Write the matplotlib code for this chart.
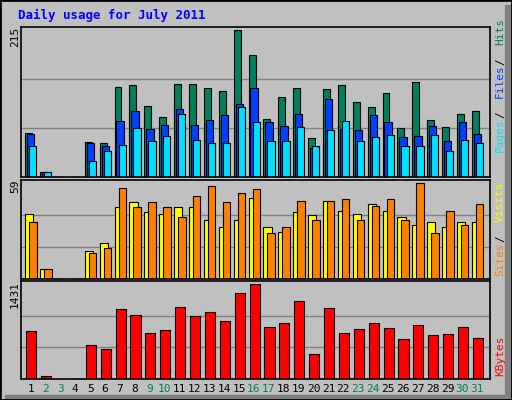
import numpy as np
import matplotlib.pyplot as plt
from matplotlib.patches import Rectangle

days = list(range(1, 32))
weekend = [2, 3, 9, 10, 16, 17, 23, 24, 30, 31]

hits = [64, 7, 0, 0, 51, 49, 131, 134, 104, 87, 136, 136, 130, 126, 215, 179,
        85, 117, 130, 57, 129, 134, 110, 102, 123, 72, 139, 84, 73, 92, 97]
files = [63, 7, 0, 0, 50, 46, 82, 97, 70, 76, 100, 76, 84, 91, 106, 130,
         81, 74, 92, 43, 114, 70, 69, 90, 81, 59, 60, 74, 52, 81, 63]
pages = [46, 7, 0, 0, 24, 38, 47, 72, 52, 60, 92, 54, 50, 50, 103, 81,
         53, 52, 73, 46, 69, 82, 52, 58, 62, 46, 46, 62, 38, 54, 49]
visits = [40, 6, 0, 0, 17, 22, 44, 47, 41, 40, 44, 44, 36, 32, 36, 50,
          32, 29, 41, 39, 48, 42, 40, 46, 42, 38, 33, 35, 32, 35, 35]
sites = [35, 6, 0, 0, 16, 19, 56, 44, 47, 44, 38, 51, 57, 47, 53, 55,
         28, 32, 48, 36, 48, 49, 36, 45, 49, 36, 59, 28, 42, 33, 46]
kbytes = [726, 52, 0, 0, 507, 444, 1055, 961, 695, 742, 1086, 945, 1008, 867, 1290, 1431,
          789, 836, 1180, 381, 1071, 695, 757, 836, 773, 601, 805, 664, 679, 789, 616]

W, H = 512, 400
BG = "#C0C0C0"
fig = plt.figure(figsize=(W / 100, H / 100), dpi=100, facecolor=BG)
fig.patches.append(Rectangle((0, 0), 1, 1, transform=fig.transFigure, fill=False,
                             edgecolor="black", lw=2))
fig.patches.append(Rectangle((505 / W, 0), 7 / W, 1 - 5 / H, transform=fig.transFigure,
                             color="#808080", zorder=0))
fig.patches.append(Rectangle((5 / W, 0), 1 - 5 / W, 5 / H, transform=fig.transFigure,
                             color="#808080", zorder=0))


def panel(y0, y1):
    ax = fig.add_axes([21 / W, 1 - y1 / H, (490 - 21) / W, (y1 - y0) / H])
    ax.set_facecolor(BG)
    ax.set_xlim(0.22, 31.72)
    ax.set_xticks([])
    ax.set_yticks([])
    for s in ax.spines.values():
        s.set_color("black")
        s.set_linewidth(1.2)
    return ax


x = np.array(days, dtype=float)
kw = dict(align="edge", edgecolor="black", linewidth=0.8)

ax1 = panel(27, 177)
ax1.set_ylim(0, 215 * 1.02)
for g in (215 / 3, 430 / 3):
    ax1.axhline(g, color="#808080", lw=1, zorder=0)
ax1.bar(x - 0.5, hits, 0.47, color="#00805C", **kw)
ax1.bar(x - 0.37, files, 0.49, color="#0040FF", **kw)
ax1.bar(x - 0.23, pages, 0.49, color="#00E0FF", **kw)

ax2 = panel(180, 279)
ax2.set_ylim(0, 59 * 1.03)
for g in (59 / 3, 118 / 3):
    ax2.axhline(g, color="#808080", lw=1, zorder=0)
ax2.bar(x - 0.5, visits, 0.55, color="#FFFF00", **kw)
ax2.bar(x - 0.23, sites, 0.5, color="#FF8000", **kw)

ax3 = panel(281, 379)
ax3.set_ylim(0, 1431 * 1.03)
for g in (1431 / 3, 2862 / 3):
    ax3.axhline(g, color="#808080", lw=1, zorder=0)
ax3.bar(x - 0.43, kbytes, 0.68, color="#FF0000", **kw)

mono = "DejaVu Sans Mono"
fig.text(18 / W, 1 - 15 / H, "Daily usage for July 2011", color="#0000FF",
         fontweight="bold", family=mono, fontsize=9, va="center")
for val, ytop in (("215", 27), ("59", 180), ("1431", 281)):
    fig.text(15 / W, 1 - ytop / H, val, rotation=90, ha="center", va="top",
             family=mono, fontsize=8)

for d in days:
    xp = (21 + (d - 0.22) / 31.5 * 469 - 2) / W
    fig.text(xp, 1 - 389 / H, str(d), ha="center", va="center", fontsize=8,
             family=mono, color="#00805C" if d in weekend else "black")


def side_label(parts, ybottom):
    # draw each coloured piece separately, stacked upwards
    y = ybottom
    for txt, col in parts:
        fig.text(500 / W, 1 - y / H, txt.strip(), rotation=90, ha="center", va="bottom",
                 color=col, family=mono, fontsize=8)
        y -= len(txt) * 6.7


side_label([("Pages", "#00E0FF"), (" / ", "black"), ("Files", "#0040FF"),
            (" / ", "black"), ("Hits", "#00805C")], 152)
side_label([("Sites", "#FF8000"), (" / ", "black"), ("Visits", "#FFFF00")], 276)
side_label([("KBytes", "#FF0000")], 376)

fig.savefig("out.png", dpi=100, facecolor=BG)
